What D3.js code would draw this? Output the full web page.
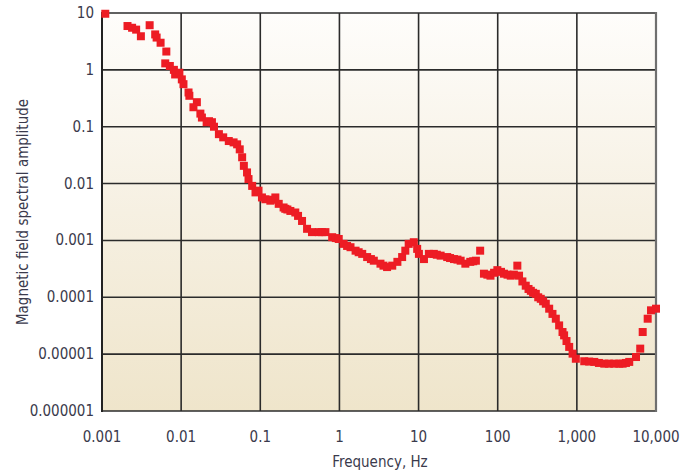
<!DOCTYPE html>
<html>
<head>
<meta charset="utf-8">
<script src="https://cdn.jsdelivr.net/npm/d3@7"></script>
<style>
  html, body { margin: 0; padding: 0; background: #fff; }
  text { font-family: "DejaVu Sans Condensed", "Liberation Sans Narrow", "Liberation Sans", sans-serif; }
</style>
</head>
<body>
<div id="chart"></div>
<script>
// frequency (Hz) and spectral amplitude
const freq = [
  0.0011, 0.0021, 0.0024, 0.0027, 0.0031, 0.004, 0.0047, 0.0049, 0.0055, 0.0065,
  0.0063, 0.0072, 0.0081, 0.0084, 0.0095, 0.0102, 0.0107, 0.0124, 0.0127, 0.0158,
  0.0143, 0.0175, 0.0183, 0.021, 0.0225, 0.0245, 0.026, 0.030, 0.034, 0.040, 0.046, 0.051,
  0.055, 0.059, 0.062, 0.068, 0.071, 0.079, 0.087, 0.095, 0.105, 0.116,
  0.134, 0.145, 0.155, 0.171, 0.197, 0.207, 0.22, 0.24, 0.277, 0.30, 0.337, 0.39, 0.45,
  0.55, 0.60, 0.665, 0.81, 0.9, 0.98, 1.13, 1.25, 1.38, 1.6, 1.75, 1.94, 2.24, 2.5, 2.72,
  3.3, 3.6, 4.0, 4.65, 5.4, 6.2, 6.8, 7.5, 8.7, 9.6, 10.1,
  11.7, 13.5, 15.6, 17, 19, 23, 25, 28, 31, 34, 39, 45, 49, 53,
  60, 67, 74, 81, 90, 99, 110, 120, 133, 146, 160, 177, 186, 205, 226, 245, 262,
  280, 303, 325, 350, 375, 405, 447, 492, 542, 597, 659, 690, 740, 800,
  883, 971, 1240, 1430, 1660, 1900, 2220, 2540, 2970, 3440,
  3790, 4170, 4590, 5590, 6320, 6790, 7850, 8650, 10000
];
const amplitude = [
  9.7, 5.9, 5.5, 5.1, 3.9, 6.1, 4.2, 3.7, 3.0, 2.1,
  1.3, 1.17, 1.0, 0.83, 0.89, 0.68, 0.56, 0.40, 0.35, 0.27,
  0.22, 0.17, 0.145, 0.12, 0.125, 0.12, 0.10, 0.074, 0.065, 0.056, 0.053, 0.049,
  0.040, 0.029, 0.0205, 0.0157, 0.012, 0.0091, 0.0070, 0.0075, 0.0057, 0.0053,
  0.0050, 0.0052, 0.0057, 0.0044, 0.0038, 0.0036, 0.0035, 0.0033, 0.0031, 0.0027, 0.0022, 0.0016, 0.0014,
  0.0014, 0.0014, 0.0014, 0.00114, 0.0011, 0.00106, 0.00087, 0.0008, 0.00076, 0.00066, 0.00062, 0.00058, 0.00051, 0.00047, 0.00044,
  0.00039, 0.00036, 0.00034, 0.00036, 0.00042, 0.00051, 0.00066, 0.00087, 0.00093, 0.00071, 0.00058,
  0.00047, 0.00058, 0.00058, 0.00056, 0.00054, 0.00051, 0.00049, 0.00047, 0.00046, 0.00044, 0.00039, 0.00042, 0.00043, 0.00044,
  0.00066, 0.00026, 0.00025, 0.00024, 0.00027, 0.00030, 0.00028, 0.00026, 0.00025, 0.00024, 0.00025, 0.00036, 0.00024, 0.00019, 0.00016, 0.00014, 0.00013,
  0.00012, 0.000115, 0.0001, 0.000094, 0.000085, 0.000077, 0.000063, 0.000051, 0.000042, 0.000032, 0.0000245, 0.0000214, 0.000017, 0.0000134,
  0.0000102, 0.0000083, 0.0000075, 0.0000074, 0.0000073, 0.000007, 0.0000068, 0.0000068, 0.0000068, 0.0000068,
  0.0000068, 0.000007, 0.0000073, 0.0000089, 0.0000125, 0.0000245, 0.000042, 0.000059, 0.000063
];

const x_ticks = [0.001, 0.01, 0.1, 1, 10, 100, 1000, 10000];
const x_tick_labels = ["0.001", "0.01", "0.1", "1", "10", "100", "1,000", "10,000"];
const y_ticks = [0.000001, 0.00001, 0.0001, 0.001, 0.01, 0.1, 1, 10];
const y_tick_labels = ["0.000001", "0.00001", "0.0001", "0.001", "0.01", "0.1", "1", "10"];

const width = 681;
const height = 472;
const plot_left = 102, plot_right = 656, plot_top = 13, plot_bottom = 411;
const mark = 8;

const x = d3.scaleLog().domain([0.001, 10000]).range([plot_left, plot_right]);
const y = d3.scaleLog().domain([0.000001, 10]).range([plot_bottom, plot_top]);

const svg = d3.select("#chart").append("svg")
  .attr("width", width)
  .attr("height", height);

// plot background: white at top fading to tan
const grad = svg.append("defs").append("linearGradient")
  .attr("id", "bg")
  .attr("x1", 0).attr("y1", 0).attr("x2", 0).attr("y2", 1);
grad.append("stop").attr("offset", "0%").attr("stop-color", "#fefdfb");
grad.append("stop").attr("offset", "50%").attr("stop-color", "#f6f0e2");
grad.append("stop").attr("offset", "100%").attr("stop-color", "#efe5cb");

svg.append("rect")
  .attr("x", plot_left).attr("y", plot_top)
  .attr("width", plot_right - plot_left).attr("height", plot_bottom - plot_top)
  .attr("fill", "url(#bg)");

// grid
svg.append("g").selectAll("line")
  .data(x_ticks.slice(1, -1))
  .join("line")
  .attr("x1", d => x(d)).attr("x2", d => x(d))
  .attr("y1", plot_top).attr("y2", plot_bottom)
  .attr("stroke", "#2b2b2b").attr("stroke-width", 1.6);

svg.append("g").selectAll("line")
  .data(y_ticks)
  .join("line")
  .attr("x1", plot_left).attr("x2", plot_right)
  .attr("y1", d => y(d)).attr("y2", d => y(d))
  .attr("stroke", "#2b2b2b").attr("stroke-width", 1.6);

// frame: dark left edge, grey right edge
svg.append("line")
  .attr("x1", plot_left).attr("x2", plot_left).attr("y1", plot_top - 1).attr("y2", plot_bottom + 1)
  .attr("stroke", "#222").attr("stroke-width", 2);
svg.append("line")
  .attr("x1", plot_right).attr("x2", plot_right).attr("y1", plot_top - 1).attr("y2", plot_bottom + 1)
  .attr("stroke", "#6f6f6f").attr("stroke-width", 2.2);

// tick labels
svg.append("g").selectAll("text")
  .data(x_ticks)
  .join("text")
  .attr("x", d => x(d))
  .attr("y", 442)
  .attr("text-anchor", "middle")
  .attr("font-size", 15)
  .attr("fill", "#3a3a4c")
  .text((d, i) => x_tick_labels[i]);

svg.append("g").selectAll("text")
  .data(y_ticks)
  .join("text")
  .attr("x", 94)
  .attr("y", d => y(d) + 5)
  .attr("text-anchor", "end")
  .attr("font-size", 15)
  .attr("fill", "#3a3a4c")
  .text((d, i) => y_tick_labels[i]);

// axis titles
svg.append("text")
  .attr("x", 380).attr("y", 467)
  .attr("text-anchor", "middle")
  .attr("font-size", 15)
  .attr("fill", "#3a3a4c")
  .text("Frequency, Hz");

svg.append("text")
  .attr("transform", "translate(28,212) rotate(-90)")
  .attr("text-anchor", "middle")
  .attr("font-size", 15)
  .attr("fill", "#3a3a4c")
  .text("Magnetic field spectral amplitude");

// data markers
svg.append("g").selectAll("rect")
  .data(freq.map((f, i) => [f, amplitude[i]]))
  .join("rect")
  .attr("x", d => x(d[0]) - mark / 2)
  .attr("y", d => y(d[1]) - mark / 2)
  .attr("width", mark).attr("height", mark)
  .attr("fill", "#ed1c24");
</script>
</body>
</html>
